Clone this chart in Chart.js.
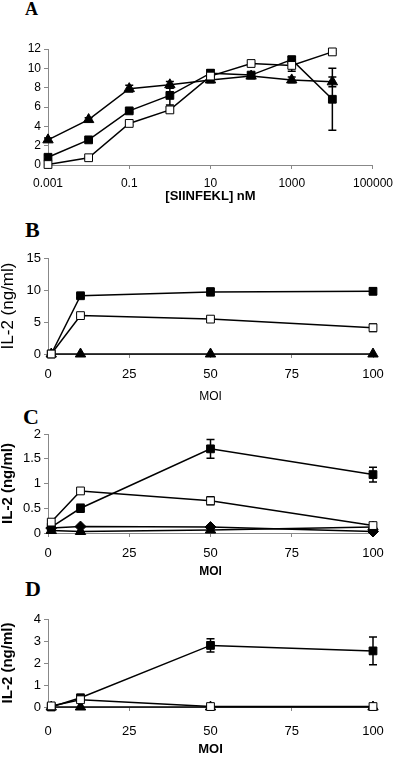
<!DOCTYPE html>
<html>
<head>
<meta charset="utf-8">
<script src="https://cdn.jsdelivr.net/npm/chart.js@4"></script>
<style>
  body { margin: 0; background: #fff; }
  #wrap { position: relative; width: 400px; height: 757px; }
  canvas { position: absolute; left: 0; }
  .letter { position: absolute; font-family: "Liberation Serif", serif; font-weight: bold; line-height: 1; color: #000; }
</style>
</head>
<body>
<div id="wrap">
  <div class="letter" style="left:25px; top:0px; font-size:18px;">A</div>
  <div class="letter" style="left:25px; top:219px; font-size:22px;">B</div>
  <div class="letter" style="left:23px; top:406px; font-size:22px;">C</div>
  <div class="letter" style="left:25px; top:578px; font-size:22px;">D</div>
  <canvas id="chartA" width="400" height="210" style="top:0px"></canvas>
  <canvas id="chartB" width="400" height="195" style="top:210px"></canvas>
  <canvas id="chartC" width="400" height="175" style="top:405px"></canvas>
  <canvas id="chartD" width="400" height="177" style="top:580px"></canvas>
</div>
<script>
// Panel A: peptide titration
const concA = [0.001, 0.01, 0.1, 1, 10, 100, 1000, 10000];
const logTicksA = [0.001, 0.1, 10, 1000, 100000];
const triA = [2.6, 4.7, 7.9, 8.3, 8.8, 9.2, 8.8, 8.6];
const triAErr = [0.2, 0.2, 0.35, 0.35, 0.3, 0.2, 0.3, 0.5];
const fillA = [0.8, 2.6, 5.6, 7.2, 9.5, 9.3, 10.9, 6.8];
const fillAErr = [0.2, 0.15, 0.15, 1.0, 0.35, 0.2, 0.3, 3.2];
const openA = [0.05, 0.75, 4.3, 5.7, 9.2, 10.5, 10.3, 11.7];
const openAErr = [0.05, 0.1, 0.2, 0.25, 0.3, 0.1, 0.6, 0.15];

// Panels B-D: MOI
const moi = [1, 10, 50, 100];
const moiTicks = [0, 25, 50, 75, 100];

const fillB = [0, 9.1, 9.7, 9.8];
const fillBErr = [0, 0.3, 0.6, 0.5];
const openB = [0, 6.0, 5.45, 4.1];
const openBErr = [0, 0.3, 0.3, 0.6];
const triB = [0, 0, 0, 0];

const fillC = [0.12, 0.5, 1.7, 1.18];
const fillCErr = [0.02, 0.08, 0.19, 0.15];
const openC = [0.22, 0.85, 0.65, 0.15];
const openCErr = [0.03, 0.04, 0.08, 0.03];
const diaC = [0.1, 0.13, 0.12, 0.03];
const triC = [0.05, 0.03, 0.06, 0.12];

const fillD = [0, 0.42, 2.8, 2.55];
const fillDErr = [0, 0.1, 0.3, 0.63];
const openD = [0.05, 0.33, 0.02, 0.02];
const openDErr = [0.03, 0.05, 0.02, 0.02];
const triD = [0, 0, 0, 0];

Chart.defaults.font.family = '"Liberation Sans", Arial, sans-serif';
Chart.defaults.color = '#000';

// draws vertical error bars with caps under the markers
const errorBars = {
  id: 'errorBars',
  beforeDatasetsDraw(chart) {
    const ctx = chart.ctx;
    const xs = chart.scales.x, ys = chart.scales.y;
    ctx.save();
    ctx.strokeStyle = '#000';
    ctx.lineWidth = 1.5;
    chart.data.datasets.forEach(ds => {
      if (!ds.errors) return;
      ds.data.forEach((pt, i) => {
        const e = ds.errors[i];
        if (!e) return;
        const px = xs.getPixelForValue(pt.x);
        const top = ys.getPixelForValue(pt.y + e);
        const bot = ys.getPixelForValue(pt.y - e);
        ctx.beginPath();
        ctx.moveTo(px, top); ctx.lineTo(px, bot);
        ctx.moveTo(px - 4, top); ctx.lineTo(px + 4, top);
        ctx.moveTo(px - 4, bot); ctx.lineTo(px + 4, bot);
        ctx.stroke();
      });
    });
    ctx.restore();
  }
};

function pts(xv, yv) {
  return xv.map((x, i) => ({ x: x, y: yv[i] }));
}

function series(xv, yv, errs, style, order) {
  const filled = style !== 'open';
  return {
    data: pts(xv, yv),
    errors: errs,
    borderColor: '#000',
    borderWidth: 1.5,
    pointStyle: style === 'open' || style === 'fill' ? 'rect' : style,
    pointRadius: style === 'triangle' ? 6 : 5.5,
    pointBackgroundColor: filled ? '#000' : '#fff',
    pointBorderColor: '#000',
    pointBorderWidth: 1,
    tension: 0,
    clip: false,
    order: order
  };
}

function axisGrid() {
  return { display: true, drawOnChartArea: false, drawTicks: true, tickLength: 4, color: '#888', lineWidth: 1 };
}

function makeChart(id, opts) {
  new Chart(document.getElementById(id), {
    type: 'line',
    data: { datasets: opts.datasets },
    options: {
      responsive: false,
      animation: false,
      devicePixelRatio: 1,
      layout: { autoPadding: false, padding: { top: opts.top, right: opts.right, left: 0, bottom: 0 } },
      plugins: { legend: { display: false }, tooltip: { enabled: false } },
      scales: {
        x: {
          type: opts.xType,
          min: opts.xMin, max: opts.xMax,
          afterBuildTicks: s => { s.ticks = opts.xTicks.map(v => ({ value: v })); },
          afterFit: s => { s.height = opts.xHeight; },
          ticks: { font: { size: opts.tickSize }, padding: opts.xLabelPad, maxRotation: 0, autoSkip: false,
                   callback: v => String(v) },
          grid: axisGrid(),
          border: { color: '#888', width: 1 },
          title: { display: true, text: opts.xTitle, padding: { top: 0, bottom: opts.xTitlePad },
                   font: { size: opts.titleSize, weight: opts.bold ? 'bold' : 'normal' } }
        },
        y: {
          min: 0, max: opts.yMax,
          afterFit: s => { s.width = 48; },
          ticks: { stepSize: opts.yStep, font: { size: opts.tickSize }, padding: 3,
                   callback: v => String(v) },
          grid: axisGrid(),
          border: { color: '#888', width: 1 },
          title: { display: !!opts.yTitle, text: opts.yTitle, padding: { top: 0, bottom: 0 },
                   font: { size: opts.yTitleSize, lineHeight: 1, weight: opts.bold ? 'bold' : 'normal' } }
        }
      }
    },
    plugins: [errorBars]
  });
}

makeChart('chartA', {
  datasets: [
    series(concA, triA, triAErr, 'triangle', 3),
    series(concA, fillA, fillAErr, 'fill', 2),
    series(concA, openA, openAErr, 'open', 1)
  ],
  xType: 'logarithmic', xMin: 0.001, xMax: 100000, xTicks: logTicksA,
  yMax: 12, yStep: 2, top: 49, right: 23, xHeight: 45, xLabelPad: 7, xTitlePad: 6,
  xTitle: '[SIINFEKL] nM', yTitle: '', yTitleSize: 16, tickSize: 12, titleSize: 13, bold: true
});

makeChart('chartB', {
  datasets: [
    series(moi, triB, null, 'triangle', 3),
    series(moi, fillB, fillBErr, 'fill', 2),
    series(moi, openB, openBErr, 'open', 1)
  ],
  xType: 'linear', xMin: 0, xMax: 100, xTicks: moiTicks,
  yMax: 15, yStep: 5, top: 48, right: 27, xHeight: 51, xLabelPad: 9, xTitlePad: 1,
  xTitle: 'MOI', yTitle: 'IL-2 (ng/ml)', yTitleSize: 17, tickSize: 13, titleSize: 12, bold: false
});

makeChart('chartC', {
  datasets: [
    series(moi, triC, null, 'triangle', 4),
    series(moi, diaC, null, 'rectRot', 3),
    series(moi, fillC, fillCErr, 'fill', 2),
    series(moi, openC, openCErr, 'open', 1)
  ],
  xType: 'linear', xMin: 0, xMax: 100, xTicks: moiTicks,
  yMax: 2, yStep: 0.5, top: 29, right: 27, xHeight: 47, xLabelPad: 9, xTitlePad: 1,
  xTitle: 'MOI', yTitle: 'IL-2 (ng/ml)', yTitleSize: 15, tickSize: 13, titleSize: 12, bold: true
});

makeChart('chartD', {
  datasets: [
    series(moi, triD, null, 'triangle', 3),
    series(moi, fillD, fillDErr, 'fill', 2),
    series(moi, openD, openDErr, 'open', 1)
  ],
  xType: 'linear', xMin: 0, xMax: 100, xTicks: moiTicks,
  yMax: 4, yStep: 1, top: 39, right: 27, xHeight: 50, xLabelPad: 13, xTitlePad: 0,
  xTitle: 'MOI', yTitle: 'IL-2 (ng/ml)', yTitleSize: 15, tickSize: 13, titleSize: 13, bold: true
});
</script>
</body>
</html>
